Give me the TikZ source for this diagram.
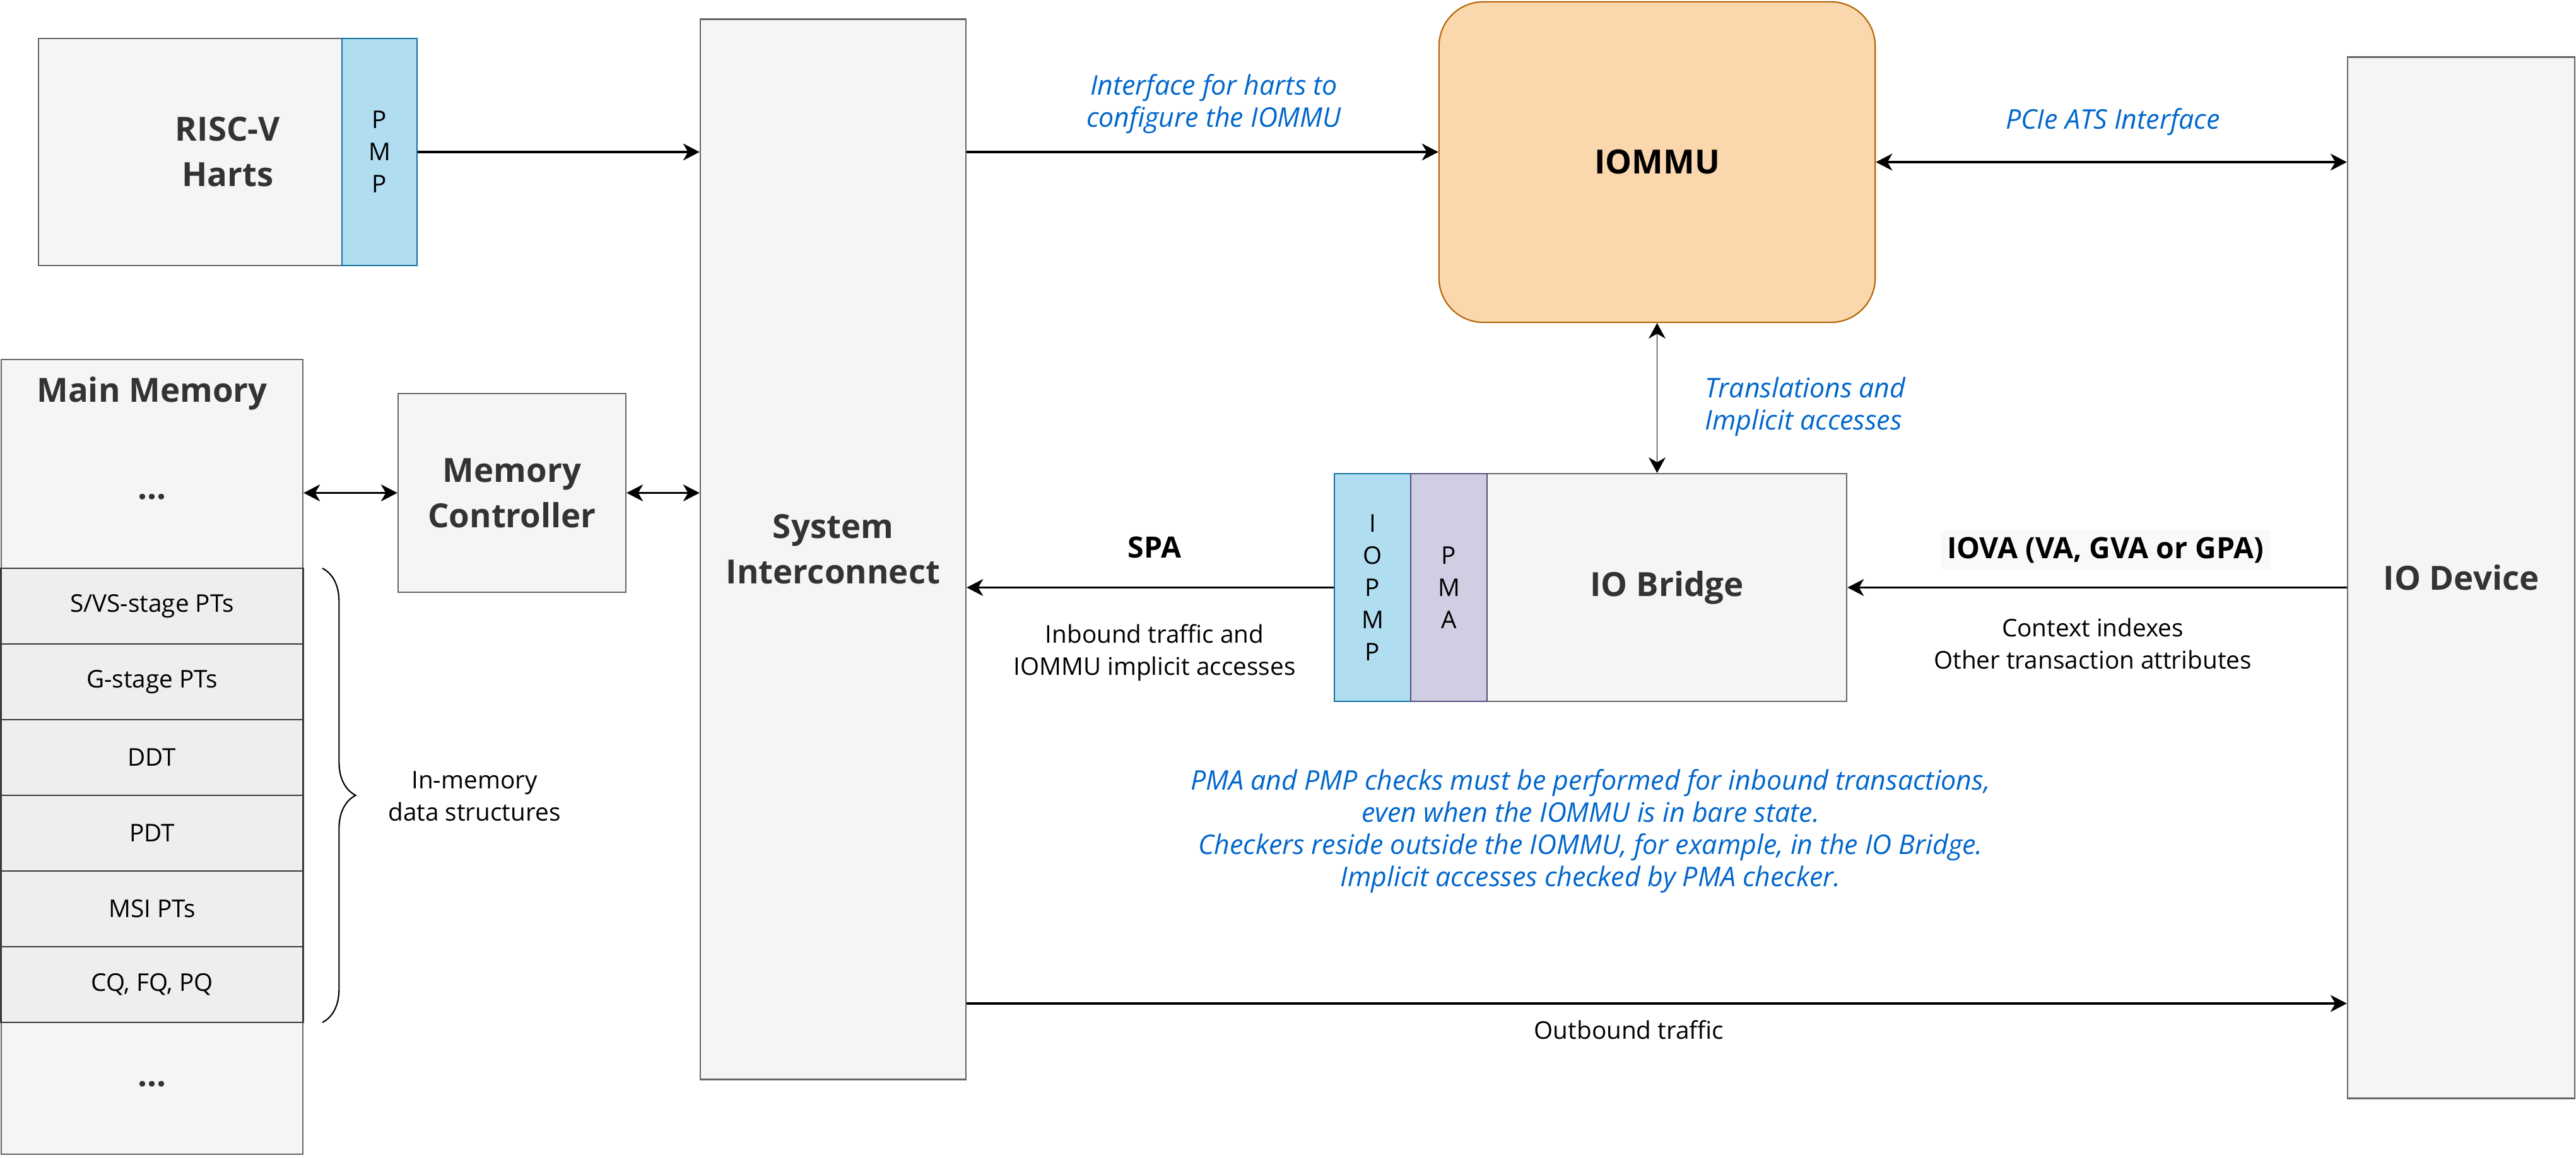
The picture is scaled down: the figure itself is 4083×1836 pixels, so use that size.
\documentclass[tikz,border=0pt]{standalone}
\usepackage{fontspec}
\setmainfont{Open Sans}
\usepackage{tikz}
\usetikzlibrary{arrows.meta}
\usetikzlibrary{decorations.pathreplacing}
\definecolor{boxfill}{HTML}{F5F5F5}
\definecolor{boxline}{HTML}{666666}
\definecolor{rowfill}{HTML}{EEEEEE}
\definecolor{rowline}{HTML}{36393D}
\definecolor{pmpfill}{HTML}{B1DDF0}
\definecolor{pmpline}{HTML}{10739E}
\definecolor{pmafill}{HTML}{D0CEE2}
\definecolor{pmaline}{HTML}{56517E}
\definecolor{iommufill}{HTML}{FAD7AC}
\definecolor{iommuline}{HTML}{B46504}
\definecolor{notecolor}{HTML}{0066CC}
\definecolor{titlecolor}{HTML}{333333}
\definecolor{lblfill}{HTML}{F8F9FA}
\newcommand{\titlefont}{\fontsize{15}{20.5}\selectfont\bfseries}
\newcommand{\plainfont}{\fontsize{11}{14.5}\selectfont}
\newcommand{\notefont}{\fontsize{12.2}{14.5}\selectfont\itshape}
\newcommand{\lblfont}{\fontsize{13.2}{16}\selectfont\bfseries}
\newcommand{\rowh}{120}
\newcommand{\rowys}{961}
\tikzset{
  block/.style={draw=boxline, fill=boxfill, line width=0.6pt, inner sep=0pt,
    font=\titlefont, text=titlecolor, align=center},
  memrow/.style={draw=rowline, fill=rowfill, line width=0.8pt, inner sep=0pt,
    font=\plainfont, minimum width=4.78cm, minimum height=1.2cm},
  pmpbox/.style={draw=pmpline, fill=pmpfill, line width=0.6pt, inner sep=0pt,
    font=\plainfont, align=center},
  pmabox/.style={draw=pmaline, fill=pmafill, line width=0.6pt, inner sep=0pt,
    font=\plainfont, align=center},
  conn/.style={line width=1pt, -{Stealth[length=7.4pt, width=7.6pt, inset=2.2pt]}},
  biconn/.style={line width=1pt,
    {Stealth[length=7.4pt, width=7.6pt, inset=2.2pt]}-{Stealth[length=7.4pt, width=7.6pt, inset=2.2pt]}},
  thinconn/.style={line width=0.5pt,
    {Stealth[length=7pt, width=7.6pt, inset=2.2pt]}-{Stealth[length=7pt, width=7.6pt, inset=2.2pt]}},
  note/.style={font=\notefont, text=notecolor, align=center},
  plain/.style={font=\plainfont, align=center},
}

\begin{document}
\begin{tikzpicture}[x=0.01cm, y=-0.01cm]
    \useasboundingbox (0,0) rectangle (4083,1836);
    % harts part
    \node[block, minimum width=6cm, minimum height=3.6cm] (harts) at (361,241) {RISC-V\\Harts};
    \node[pmpbox, minimum width=1.19cm, minimum height=3.6cm] (pmp) at (601.5,241) {P\\M\\P};
    % system interconnect
    \node[block, minimum width=4.21cm, minimum height=16.8cm] (sys) at (1320.5,871) {System\\Interconnect};
    % main memory part
    \node[block, minimum width=4.78cm, minimum height=12.6cm] (mem) at (241,1200) {};
    \node[font=\titlefont, text=titlecolor] (memtitle) at (241,624) {Main Memory};
    \node[font=\titlefont, text=titlecolor] (memtop) at (241,788) {...};
    \foreach \i/\txt in {0/{S/VS-stage PTs}, 1/{G-stage PTs}, 2/{DDT}, 3/{PDT}, 4/{MSI PTs}, 5/{CQ, FQ, PQ}}
      \node[memrow] (row\i) at (241,\rowys+\rowh*\i) {\txt};
    \node[font=\titlefont, text=titlecolor] (membot) at (241,1719) {...};
    \draw[decorate, decoration={brace, amplitude=15pt}, line width=0.6pt]
      (511,901) -- (511,1621);
    \node[plain] (memlbl) at (752,1262) {In-memory\\data structures};
    % memory controller
    \node[block, minimum width=3.61cm, minimum height=3.15cm] (memctl) at (811.5,781.5) {Memory\\Controller};
    % iommu part
    \node[draw=iommuline, fill=iommufill, rounded corners=20pt, line width=0.6pt,
      minimum width=6.91cm, minimum height=5.08cm, font=\titlefont] (iommu) at (2626.5,257) {IOMMU};
    % io device
    \node[block, minimum width=3.6cm, minimum height=16.5cm] (iodev) at (3901,916) {IO Device};
    % io bridge part
    \node[block, minimum width=5.7cm, minimum height=3.61cm] (bridge) at (2642,931.5) {IO Bridge};
    \node[pmpbox, minimum width=1.21cm, minimum height=3.61cm] (iopmp) at (2175.5,931.5) {I\\O\\P\\M\\P};
    \node[pmabox, minimum width=1.21cm, minimum height=3.61cm] (pma) at (2296.5,931.5) {P\\M\\A};
    % connectors
    \draw[conn] (pmp.east) -- (sys.west |- pmp.east);
    \draw[conn] (sys.east |- harts.east) -- (iommu.west |- harts.east);
    \node[note] (ifacelbl) at (1924,165) {Interface for harts to\\configure the IOMMU};
    \draw[biconn] (iommu.east) -- (iommu.east -| iodev.west);
    \node[note] (atslbl) at (3349,193) {PCIe ATS Interface};
    \draw[thinconn] (iommu.south) -- (iommu.south |- bridge.north);
    \node[note, anchor=west, align=left] (translbl) at (2690,645) {Translations and\\Implicit accesses};
    \draw[biconn] (memctl.west -| mem.east) -- (memctl.west);
    \draw[biconn] (memctl.east) -- (memctl.east -| sys.west);
    \draw[conn] (iopmp.west) -- (iopmp.west -| sys.east);
    \node[font=\lblfont] (spalbl) at (1830,868) {SPA};
    \node[plain] (inblbl) at (1830,1035) {Inbound traffic and\\IOMMU implicit accesses};
    \draw[conn] (iodev.west |- bridge.east) -- (bridge.east);
    \node[font=\lblfont, fill=lblfill, inner sep=3pt] (iovalbl) at (3337,872) {IOVA (VA, GVA or GPA)};
    \node[plain] (ctxlbl) at (3317,1020) {Context indexes\\Other transaction attributes};
    \coordinate (outb) at (1531,1591);
    \draw[conn] (sys.east |- outb) -- (iodev.west |- outb);
    \node[plain] (outlbl) at (2582,1633) {Outbound traffic};
    % checks note
    \node[note] (chknote) at (2521,1318) {PMA and PMP checks must be performed for inbound transactions,\\
      even when the IOMMU is in bare state.\\
      Checkers reside outside the IOMMU, for example, in the IO Bridge.\\
      Implicit accesses checked by PMA checker.};
\end{tikzpicture}
\end{document}
